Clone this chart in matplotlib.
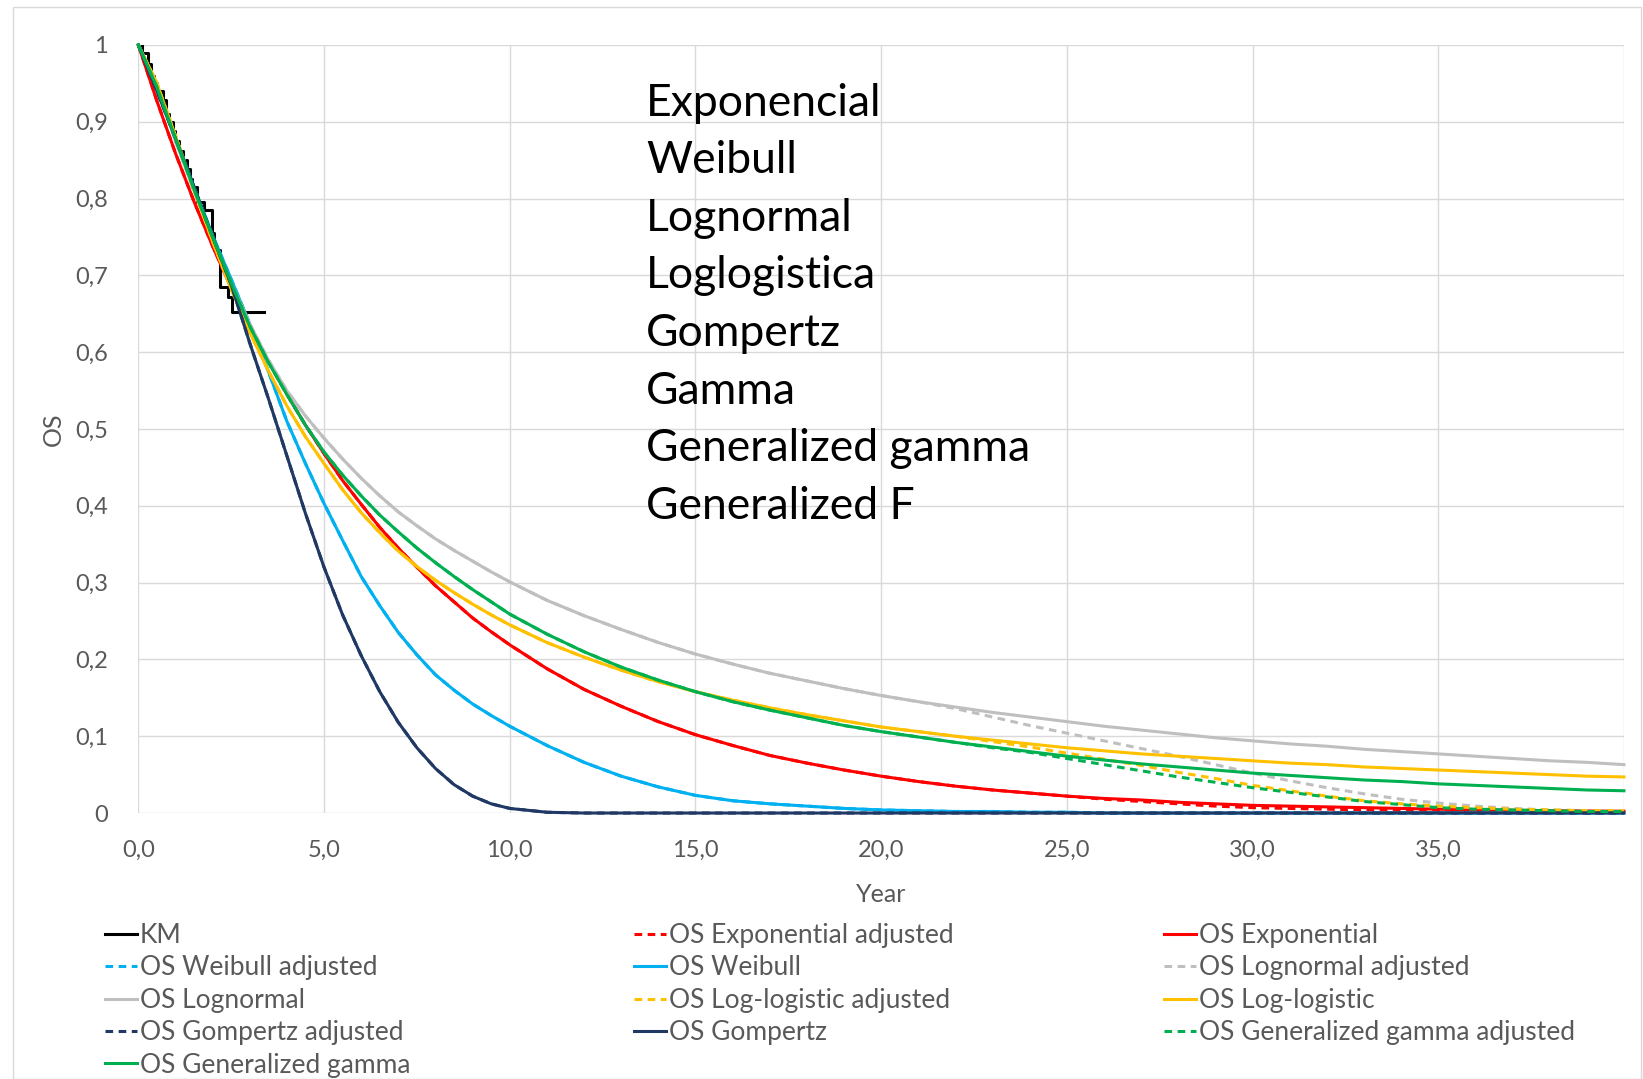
import matplotlib.pyplot as plt
import matplotlib as mp
from matplotlib.patches import Rectangle

mp.rcParams.update({'font.family': ['Lato', 'DejaVu Sans'], 'font.size': 14})

# ---- values ----
km_years = [0, 0.1, 0.27, 0.35, 0.43, 0.51, 0.67, 0.74, 0.83, 0.92, 1.0, 1.1, 1.2, 1.3,
            1.4, 1.45, 1.57, 1.77, 1.975, 2.05, 2.2, 2.42, 2.53, 3.37]
km_os = [1.0, 0.99, 0.975, 0.96, 0.95, 0.94, 0.928, 0.91, 0.9, 0.888, 0.875, 0.862, 0.85, 0.838,
         0.825, 0.815, 0.796, 0.785, 0.755, 0.733, 0.685, 0.672, 0.652, 0.652]

years = [0, 0.5, 1, 1.5, 2, 2.5, 3, 3.5, 4, 4.5, 5, 5.5, 6, 6.5, 7, 7.5, 8, 8.5, 9, 9.5,
         10, 11, 12, 13, 14, 15, 16, 17, 18, 19, 20, 21, 22, 23, 24, 25, 26, 27, 28, 29,
         30, 31, 32, 33, 34, 35, 36, 37, 38, 39, 40]

os_exponential = [1.0, 0.927, 0.859, 0.796, 0.738, 0.684, 0.634, 0.588, 0.545, 0.505,
                  0.468, 0.433, 0.402, 0.372, 0.345, 0.320, 0.296, 0.275, 0.254, 0.236,
                  0.219, 0.188, 0.161, 0.139, 0.119, 0.102, 0.088, 0.075, 0.065, 0.056,
                  0.048, 0.041, 0.035, 0.030, 0.026, 0.022, 0.019, 0.017, 0.014, 0.012,
                  0.010, 0.009, 0.008, 0.007, 0.006, 0.005, 0.004, 0.0036, 0.003, 0.0027, 0.0023]
os_exponential_adj = os_exponential[:36] + [0.018, 0.015, 0.012, 0.009, 0.007, 0.006, 0.005,
                                            0.004, 0.003, 0.003, 0.002, 0.002, 0.001, 0.001, 0.001]

os_weibull = [1.0, 0.945, 0.88, 0.815, 0.752, 0.695, 0.637, 0.575, 0.51, 0.455,
              0.403, 0.355, 0.308, 0.27, 0.235, 0.206, 0.18, 0.16, 0.142, 0.127,
              0.113, 0.088, 0.066, 0.048, 0.034, 0.023, 0.016, 0.012, 0.009, 0.006,
              0.004, 0.003, 0.002, 0.002, 0.001, 0.001, 0, 0, 0, 0,
              0, 0, 0, 0, 0, 0, 0, 0, 0, 0, 0]
os_weibull_adj = list(os_weibull)

os_lognormal = [1.0, 0.95, 0.875, 0.81, 0.748, 0.69, 0.637, 0.59, 0.55, 0.517,
                0.488, 0.461, 0.436, 0.413, 0.392, 0.374, 0.357, 0.342, 0.328, 0.314,
                0.301, 0.277, 0.257, 0.239, 0.222, 0.207, 0.194, 0.182, 0.172, 0.162,
                0.153, 0.145, 0.138, 0.131, 0.125, 0.119, 0.113, 0.108, 0.103, 0.098,
                0.094, 0.09, 0.087, 0.083, 0.08, 0.077, 0.074, 0.071, 0.068, 0.066, 0.063]
os_lognormal_adj = os_lognormal[:31] + [0.145, 0.136, 0.125, 0.114, 0.104, 0.094, 0.084, 0.074,
                                        0.063, 0.052, 0.042, 0.033, 0.025, 0.018, 0.013, 0.009,
                                        0.006, 0.004, 0.003, 0.002]

os_loglogistic = [1.0, 0.95, 0.882, 0.811, 0.744, 0.682, 0.626, 0.576, 0.53, 0.49,
                  0.455, 0.421, 0.391, 0.365, 0.341, 0.321, 0.303, 0.287, 0.272, 0.258,
                  0.245, 0.222, 0.203, 0.186, 0.171, 0.158, 0.147, 0.137, 0.128, 0.12,
                  0.112, 0.106, 0.1, 0.095, 0.09, 0.085, 0.081, 0.077, 0.074, 0.071,
                  0.068, 0.065, 0.063, 0.06, 0.058, 0.056, 0.054, 0.052, 0.05, 0.048, 0.047]
os_loglogistic_adj = os_loglogistic[:33] + [0.093, 0.086, 0.078, 0.07, 0.062, 0.053, 0.045, 0.036,
                                            0.029, 0.022, 0.016, 0.012, 0.009, 0.007, 0.005,
                                            0.004, 0.003, 0.003]

os_gompertz = [1.0, 0.94, 0.878, 0.815, 0.75, 0.688, 0.612, 0.54, 0.465, 0.39,
               0.32, 0.258, 0.205, 0.158, 0.118, 0.085, 0.058, 0.037, 0.022, 0.012,
               0.006, 0.001, 0, 0, 0, 0, 0, 0, 0, 0,
               0, 0, 0, 0, 0, 0, 0, 0, 0, 0,
               0, 0, 0, 0, 0, 0, 0, 0, 0, 0, 0]
os_gompertz_adj = list(os_gompertz)

os_gengamma = [1.0, 0.945, 0.878, 0.812, 0.75, 0.69, 0.634, 0.587, 0.545, 0.505,
               0.47, 0.44, 0.413, 0.388, 0.366, 0.345, 0.326, 0.308, 0.291, 0.275,
               0.259, 0.233, 0.21, 0.19, 0.173, 0.158, 0.145, 0.134, 0.124, 0.114,
               0.106, 0.099, 0.092, 0.086, 0.08, 0.074, 0.069, 0.064, 0.06, 0.056,
               0.052, 0.049, 0.046, 0.043, 0.041, 0.038, 0.036, 0.034, 0.032, 0.03, 0.029]
os_gengamma_adj = os_gengamma[:33] + [0.085, 0.079, 0.071, 0.063, 0.055, 0.047, 0.04, 0.033,
                                      0.027, 0.021, 0.015, 0.011, 0.007, 0.005, 0.004,
                                      0.003, 0.002, 0.002]

model_names = ['Exponencial', 'Weibull', 'Lognormal', 'Loglogistica', 'Gompertz',
               'Gamma', 'Generalized gamma', 'Generalized F']

x_ticks = [0, 5, 10, 15, 20, 25, 30, 35, 40]
x_tick_labels = ['0,0', '5,0', '10,0', '15,0', '20,0', '25,0', '30,0', '35,0', '']
y_ticks = [0, 0.1, 0.2, 0.3, 0.4, 0.5, 0.6, 0.7, 0.8, 0.9, 1.0]
y_tick_labels = ['0', '0,1', '0,2', '0,3', '0,4', '0,5', '0,6', '0,7', '0,8', '0,9', '1']

# series in Excel order: (label, values, colour, dashed)
RED = '#FF0000'
BLUE = '#00B0F0'
GREY = '#BFBFBF'
GOLD = '#FFC000'
NAVY = '#203864'
GREEN = '#00B050'
series = [
    ('OS Exponential adjusted', os_exponential_adj, RED, True),
    ('OS Exponential', os_exponential, RED, False),
    ('OS Weibull adjusted', os_weibull_adj, BLUE, True),
    ('OS Weibull', os_weibull, BLUE, False),
    ('OS Lognormal adjusted', os_lognormal_adj, GREY, True),
    ('OS Lognormal', os_lognormal, GREY, False),
    ('OS Log-logistic adjusted', os_loglogistic_adj, GOLD, True),
    ('OS Log-logistic', os_loglogistic, GOLD, False),
    ('OS Gompertz adjusted', os_gompertz_adj, NAVY, True),
    ('OS Gompertz', os_gompertz, NAVY, False),
    ('OS Generalized gamma adjusted', os_gengamma_adj, GREEN, True),
    ('OS Generalized gamma', os_gengamma, GREEN, False),
]

TXT = '#595959'
LW = 2.2
DASH = (2.5, 1.8)

fig = plt.figure(figsize=(16.43, 10.79), dpi=100, facecolor='w')
fig.patches.append(Rectangle((13 / 1643, 0), (1641 - 13) / 1643, 1 - 7 / 1079,
                             transform=fig.transFigure, fill=False,
                             edgecolor='#D9D9D9', linewidth=1.0))
ax = fig.add_axes([0.0842, 0.2465, 0.9042, 0.7118])

# Plot #
handles = []
km_line, = ax.plot(km_years, km_os, color='black', linewidth=LW, drawstyle='steps-post', label='KM')
handles.append(km_line)
for name, vals, col, dashed in series:
    if dashed:
        ln, = ax.plot(years, vals, color=col, linewidth=LW, linestyle=(0, DASH), label=name)
    else:
        ln, = ax.plot(years, vals, color=col, linewidth=LW, label=name)
    ln.set_clip_on(False)
    handles.append(ln)

# Axes #
ax.set_xlim(0, 40)
ax.set_ylim(0, 1)
ax.set_xticks(x_ticks)
ax.set_xticklabels(x_tick_labels)
ax.set_yticks(y_ticks)
ax.set_yticklabels(y_tick_labels)
ax.tick_params(length=0, labelsize=17, labelcolor=TXT, pad=19)
ax.tick_params(axis='y', pad=22)
for s in ax.spines.values():
    s.set_visible(False)
ax.grid(True, color='#D9D9D9', linewidth=1.0)
ax.set_axisbelow(True)
ax.set_xlabel('Year', fontsize=18, color=TXT, labelpad=16)
ax.set_ylabel('OS', fontsize=18, color=TXT, labelpad=7)

# model list in the plot area
for i, name in enumerate(model_names):
    fig.text(646 / 1643, 1 - (103 + i * 57.6) / 1079, name, fontsize=32, color='black',
             ha='left', va='center')

# legend: three columns, filled row by row like Excel
col_x = [105, 634, 1164]
for c in range(3):
    hs = handles[c::3]
    fig.legend(handles=hs, labels=[h.get_label() for h in hs], loc='upper left',
               bbox_to_anchor=(col_x[c] / 1643, 1 - 923 / 1079), frameon=False,
               fontsize=19, labelcolor=TXT, handlelength=1.2, handletextpad=0.12,
               labelspacing=0.28, borderaxespad=0, borderpad=0)

plt.savefig('out.png', dpi=100)
plt.close()
